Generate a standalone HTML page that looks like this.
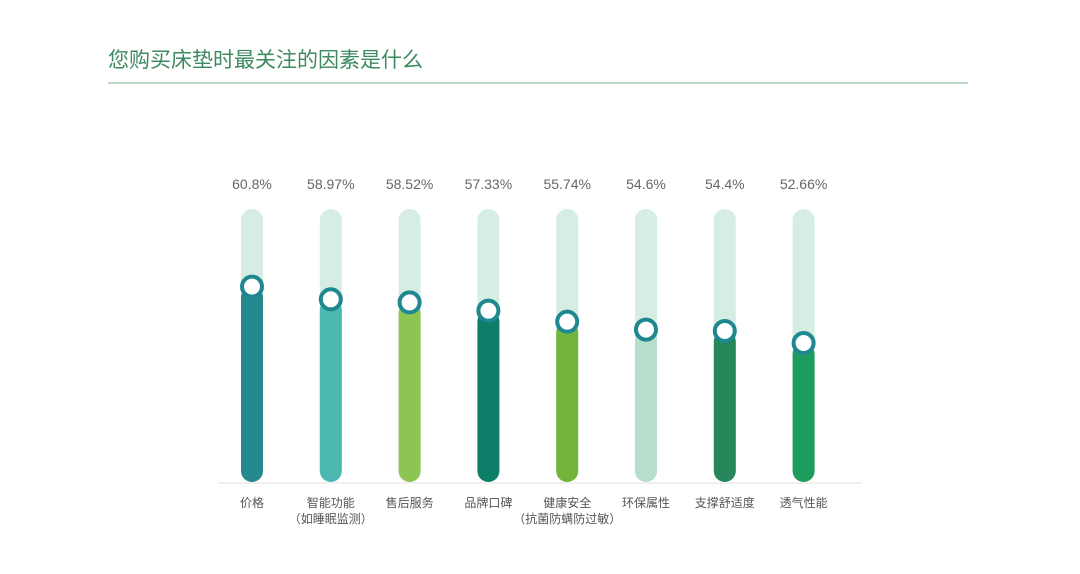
<!DOCTYPE html>
<html><head><meta charset="utf-8"><style>
body{margin:0;background:#fff;width:1080px;height:569px;overflow:hidden;font-family:"Liberation Sans","Noto Sans CJK SC",sans-serif}
</style></head><body>
<svg width="1080" height="569">
<text x="108" y="67" font-size="21" fill="#3d8a5f" font-family="Liberation Sans, Noto Sans CJK SC, sans-serif">您购买床垫时最关注的因素是什么</text>
<line x1="108" y1="83" x2="968" y2="83" stroke="#bcdac6" stroke-width="2"/>
<line x1="218" y1="483" x2="862" y2="483" stroke="#e2e2e2" stroke-width="1"/>
<g id="bars"></g>
</svg>
<script>
const categories=["价格","智能功能|（如睡眠监测）","售后服务","品牌口碑","健康安全|（抗菌防螨防过敏）","环保属性","支撑舒适度","透气性能"];
const values=[60.8,58.97,58.52,57.33,55.74,54.6,54.4,52.66];
const valueLabels=["60.8%","58.97%","58.52%","57.33%","55.74%","54.6%","54.4%","52.66%"];
const colors=["#24898f","#4cb8b0","#8cc552","#0f7e68","#73b43a","#b5dfcc","#27875a","#1e9c5e"];
const ns="http://www.w3.org/2000/svg";
const g=document.getElementById("bars");
function xPos(i){return 252+i*78.8;}
function yPos(v){return 209+(72-v)*6.93;}
const trackTop=209,trackBot=482,barW=22;
function mk(t,a){const e=document.createElementNS(ns,t);for(const k in a)e.setAttribute(k,a[k]);g.appendChild(e);return e;}
values.forEach((v,i)=>{
 const x=xPos(i),y=yPos(v);
 const tr=mk("rect",{x:x-barW/2,y:trackTop,width:barW,height:trackBot-trackTop,rx:11,fill:"#d6ede3"});
 
 
 const b=mk("rect",{x:x-barW/2,y:y,width:barW,height:trackBot-y,rx:11,fill:colors[i]});
 
 
 const c=mk("circle",{cx:x,cy:y,r:10,fill:"#fff",stroke:"#1f8790","stroke-width":4});
 
 
 const vl=mk("text",{x:x,y:189,"text-anchor":"middle","font-size":14,fill:"#666"});
 vl.textContent=valueLabels[i];
 
 
 categories[i].split("|").forEach((s,j)=>{
  const t=mk("text",{x:x,y:507+j*16,"text-anchor":"middle","font-size":12,fill:"#555"});
  t.textContent=s;
  
  
 });
});
</script>
</body></html>
